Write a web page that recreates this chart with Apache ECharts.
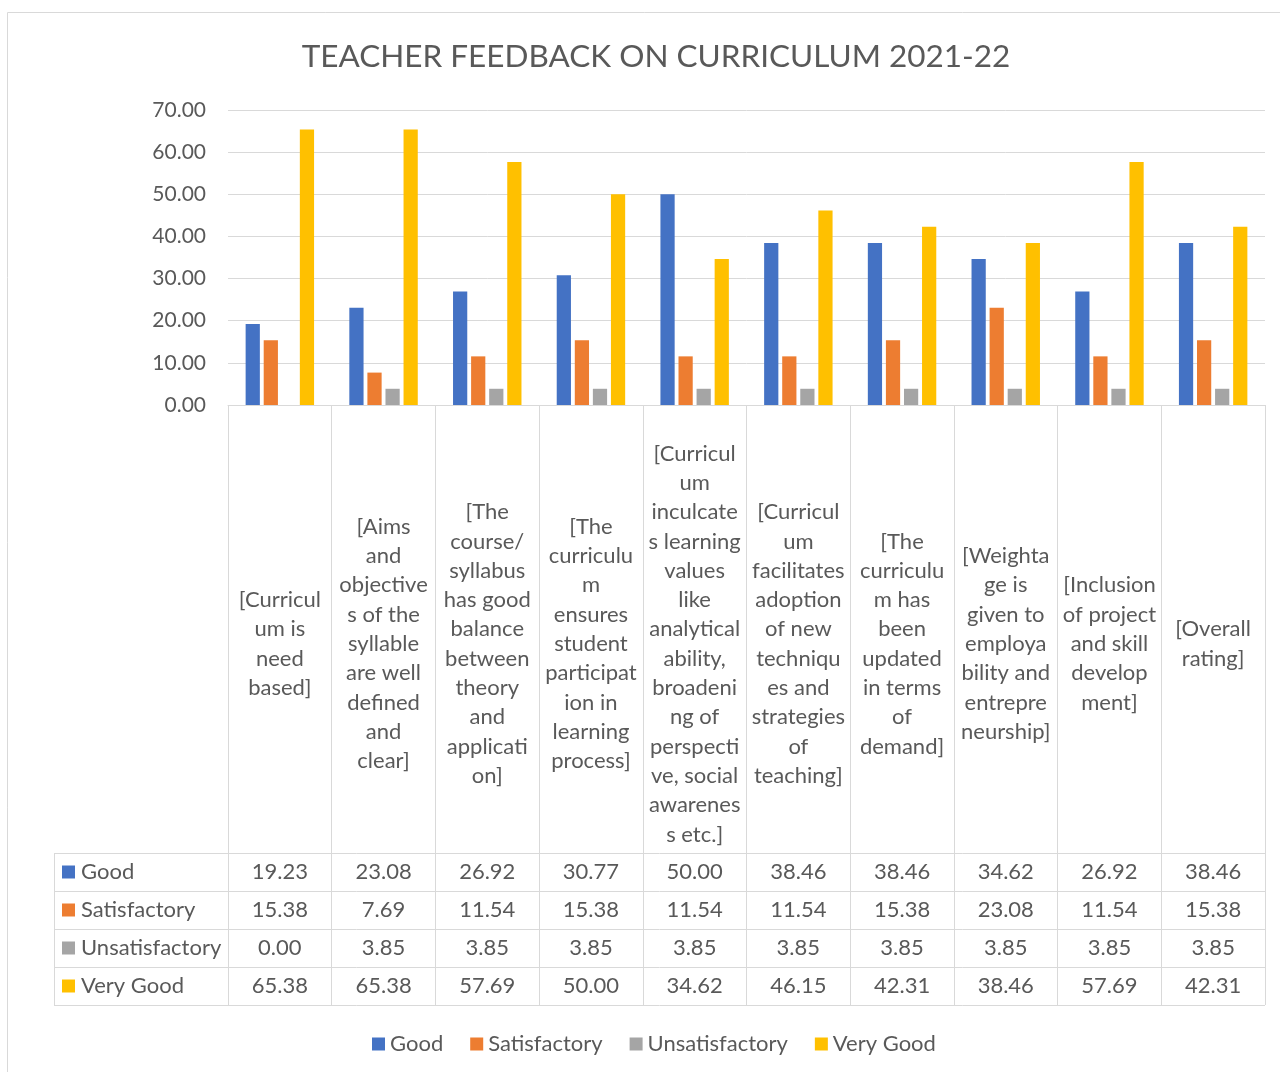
<!DOCTYPE html>
<html>
<head>
<meta charset="utf-8">
<script src="https://cdn.jsdelivr.net/npm/echarts@6/dist/echarts.min.js"></script>
<style>
  html, body { margin: 0; padding: 0; background: #fff; }
  #main { width: 1280px; height: 1072px; }
</style>
</head>
<body>
<div id="main"></div>
<script>
// categories (line breaks as in the wrapped labels)
const categories = [
    "[Curricul\num is\nneed\nbased]",
    "[Aims\nand\nobjective\ns of the\nsyllable\nare well\ndefined\nand\nclear]",
    "[The\ncourse/\nsyllabus\nhas good\nbalance\nbetween\ntheory\nand\napplicati\non]",
    "[The\ncurriculu\nm\nensures\nstudent\nparticipat\nion in\nlearning\nprocess]",
    "[Curricul\num\ninculcate\ns learning\nvalues\nlike\nanalytical\nability,\nbroadeni\nng of\nperspecti\nve, social\nawarenes\ns etc.]",
    "[Curricul\num\nfacilitates\nadoption\nof new\ntechniqu\nes and\nstrategies\nof\nteaching]",
    "[The\ncurriculu\nm has\nbeen\nupdated\nin terms\nof\ndemand]",
    "[Weighta\nge is\ngiven to\nemploya\nbility and\nentrepre\nneurship]",
    "[Inclusion\nof project\nand skill\ndevelop\nment]",
    "[Overall\nrating]"
];

const seriesNames = ['Good', 'Satisfactory', 'Unsatisfactory', 'Very Good'];

const good = [19.23, 23.08, 26.92, 30.77, 50.00, 38.46, 38.46, 34.62, 26.92, 38.46];
const satisfactory = [15.38, 7.69, 11.54, 15.38, 11.54, 11.54, 15.38, 23.08, 11.54, 15.38];
const unsatisfactory = [0.00, 3.85, 3.85, 3.85, 3.85, 3.85, 3.85, 3.85, 3.85, 3.85];
const veryGood = [65.38, 65.38, 57.69, 50.00, 34.62, 46.15, 42.31, 38.46, 57.69, 42.31];

const yTicks = [0, 10, 20, 30, 40, 50, 60, 70];

const colors = ['#4472C4', '#ED7D31', '#A5A5A5', '#FFC000'];
const textColor = '#595959';
const lineColor = '#D9D9D9';
const font = 'Lato, "Open Sans", sans-serif';

const seriesValues = [good, satisfactory, unsatisfactory, veryGood];

const chart = echarts.init(document.getElementById('main'));

const option = {
    animation: false,
    color: colors,
    textStyle: { fontFamily: font },
    title: {
        text: 'TEACHER FEEDBACK ON CURRICULUM 2021-22',
        left: 651,
        textAlign: 'center',
        top: 36,
        textStyle: { fontSize: 31.5, fontWeight: 'normal', color: textColor, fontFamily: font }
    },
    legend: {
        data: seriesNames,
        left: 367,
        top: 1028,
        icon: 'rect',
        itemWidth: 13,
        itemHeight: 13,
        itemGap: 27,
        textStyle: { fontSize: 22, color: textColor, fontFamily: font }
    },
    grid: {
        left: 228,
        right: 15,
        top: 110,
        bottom: 667
    },
    xAxis: {
        type: 'category',
        data: categories,
        axisLine: { lineStyle: { color: lineColor, width: 1 } },
        axisTick: { show: true, length: 600, lineStyle: { color: lineColor, width: 1 } },
        axisLabel: {
            interval: 0,
            margin: 239,
            verticalAlign: 'middle',
            fontSize: 22,
            lineHeight: 29.3,
            color: textColor,
            fontFamily: font
        }
    },
    yAxis: {
        type: 'value',
        min: yTicks[0],
        max: yTicks[yTicks.length - 1],
        interval: 10,
        axisLine: { show: false },
        axisTick: { show: false },
        axisLabel: {
            margin: 22,
            fontSize: 21,
            color: textColor,
            fontFamily: font,
            formatter: v => v.toFixed(2)
        },
        splitLine: { lineStyle: { color: lineColor, width: 1 } }
    },
    series: seriesNames.map((name, i) => ({
        name: name,
        type: 'bar',
        data: seriesValues[i],
        barGap: '27%',
        barCategoryGap: '34%'
    }))
};

chart.setOption(option);

// data table under the chart
const tableLeft = 54, tableRight = 1265;
const rowTop = 853, rowH = 38;
const graphic = [];

// outer chart border
graphic.push({
    type: 'rect',
    shape: { x: 7.5, y: 12.5, width: 1290, height: 1090 },
    style: { fill: 'none', stroke: lineColor, lineWidth: 1 },
    silent: true
});

for (let r = 0; r <= seriesNames.length; r++) {
    const y = rowTop + r * rowH + 0.5;
    graphic.push({
        type: 'line',
        shape: { x1: tableLeft, y1: y, x2: tableRight, y2: y },
        style: { stroke: lineColor, lineWidth: 1 },
        silent: true
    });
}
graphic.push({
    type: 'line',
    shape: { x1: tableLeft + 0.5, y1: rowTop, x2: tableLeft + 0.5, y2: rowTop + rowH * 4 },
    style: { stroke: lineColor, lineWidth: 1 },
    silent: true
});

seriesNames.forEach((name, r) => {
    const cy = rowTop + r * rowH + rowH / 2;
    graphic.push({
        type: 'rect',
        shape: { x: 62, y: cy - 6.5, width: 13, height: 13 },
        style: { fill: colors[r] },
        silent: true
    });
    graphic.push({
        type: 'text',
        x: 81, y: cy,
        style: {
            text: name, fill: textColor, fontSize: 22, fontFamily: font,
            align: 'left', verticalAlign: 'middle'
        },
        silent: true
    });
    seriesValues[r].forEach((v, c) => {
        const cx = chart.convertToPixel({ xAxisIndex: 0 }, c);
        graphic.push({
            type: 'text',
            x: cx, y: cy,
            style: {
                text: v.toFixed(2), fill: textColor, fontSize: 22, fontFamily: font,
                align: 'center', verticalAlign: 'middle'
            },
            silent: true
        });
    });
});

chart.setOption({ graphic: graphic });
</script>
</body>
</html>
